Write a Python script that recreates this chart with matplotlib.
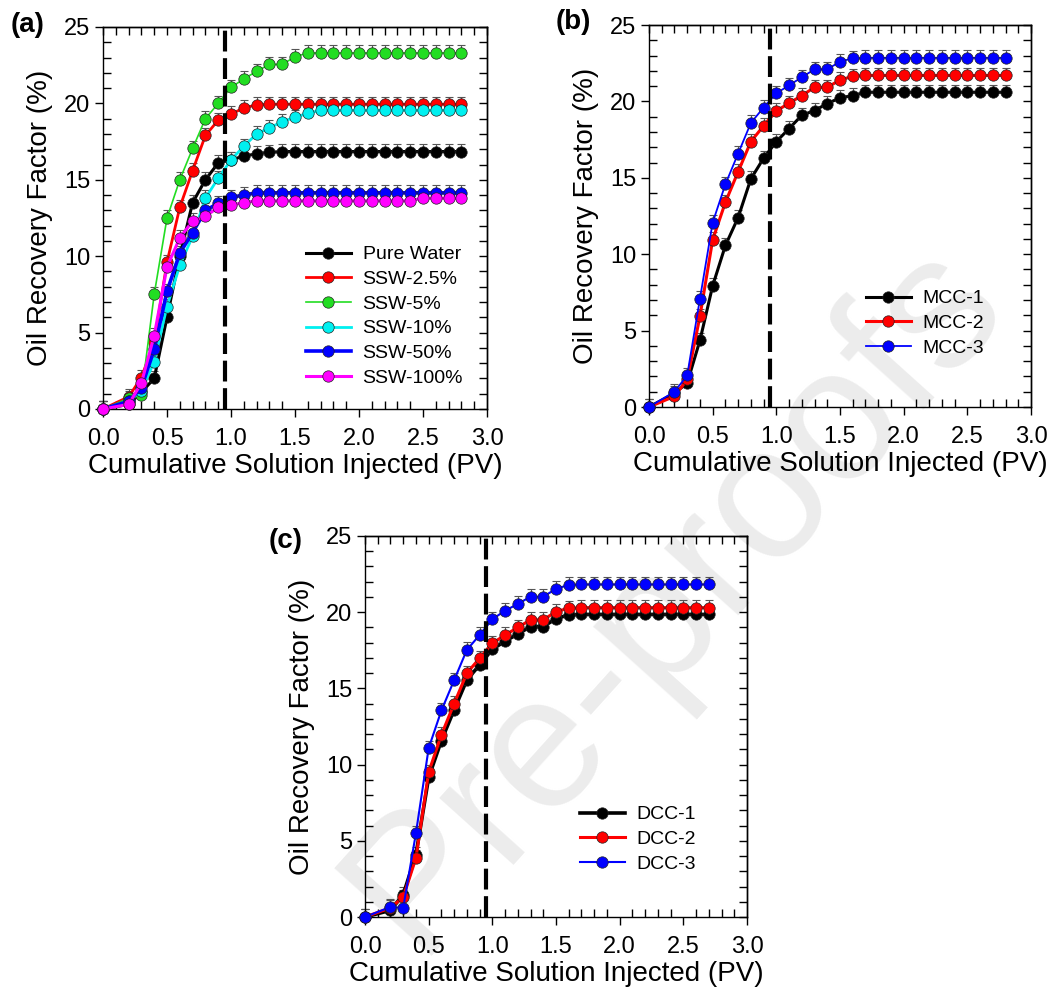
import matplotlib
matplotlib.use("Agg")
import matplotlib.pyplot as plt
from matplotlib.ticker import MultipleLocator

plt.rcParams['font.family'] = ['Liberation Sans', 'DejaVu Sans']

# ---------------- data ----------------
x_ab = [0.0, 0.2, 0.3, 0.4, 0.5, 0.6, 0.7, 0.8, 0.9, 1.0, 1.1, 1.2, 1.3, 1.4,
        1.5, 1.6, 1.7, 1.8, 1.9, 2.0, 2.1, 2.2, 2.3, 2.4, 2.5, 2.6, 2.7, 2.8]
x_c = x_ab[:-1]

pure_water = [0, 0.3, 1.1, 2.0, 6.0, 10.0, 13.5, 15.0, 16.1, 16.3, 16.55, 16.7, 16.8,
              16.85, 16.85, 16.85, 16.85, 16.85, 16.85, 16.85, 16.85, 16.85, 16.85,
              16.85, 16.85, 16.85, 16.85, 16.85]
ssw_2_5 = [0, 0.8, 2.05, 4.4, 9.6, 13.2, 15.6, 17.9, 18.9, 19.3, 19.7, 19.9,
           19.95, 19.95, 19.95, 19.95, 19.95, 19.95, 19.95, 19.95, 19.95, 19.95,
           19.95, 19.95, 19.95, 19.95, 19.95, 19.95]
ssw_5 = [0, 0.7, 0.9, 7.5, 12.5, 15.0, 17.05, 19.0, 20.0, 21.05, 21.6, 22.1, 22.55,
         22.55, 23.05, 23.3, 23.3, 23.3, 23.3, 23.3, 23.3, 23.3, 23.3, 23.3, 23.3,
         23.3, 23.3, 23.3]
ssw_10 = [0, 0.5, 1.2, 3.1, 6.7, 9.4, 11.3, 13.8, 15.1, 16.3, 17.2, 18.0, 18.4, 18.8,
          19.1, 19.35, 19.55, 19.55, 19.55, 19.55, 19.55, 19.55, 19.55, 19.55, 19.55,
          19.55, 19.55, 19.55]
ssw_50 = [0, 0.5, 1.4, 3.9, 7.7, 10.2, 11.55, 13.0, 13.45, 13.85, 14.0, 14.15, 14.15,
          14.15, 14.15, 14.15, 14.15, 14.15, 14.15, 14.15, 14.15, 14.15, 14.15, 14.15,
          14.15, 14.15, 14.15, 14.15]
ssw_100 = [0, 0.3, 1.7, 4.8, 9.3, 11.2, 12.3, 12.6, 13.2, 13.35, 13.5, 13.63, 13.63,
           13.63, 13.63, 13.63, 13.63, 13.63, 13.63, 13.63, 13.63, 13.63, 13.63, 13.63,
           13.8, 13.8, 13.8, 13.8]

mcc_1 = [0, 0.9, 1.57, 4.36, 7.93, 10.57, 12.4, 14.93, 16.28, 17.37, 18.22, 19.09,
         19.4, 19.86, 20.23, 20.38, 20.6, 20.6, 20.6, 20.6, 20.6, 20.6, 20.6, 20.6,
         20.6, 20.6, 20.6, 20.6]
mcc_2 = [0, 0.7, 1.8, 5.93, 10.94, 13.4, 15.4, 17.37, 18.4, 19.38, 19.88, 20.38,
         20.92, 20.92, 21.4, 21.64, 21.7, 21.7, 21.7, 21.7, 21.7, 21.7, 21.7, 21.7,
         21.7, 21.7, 21.7, 21.7]
mcc_3 = [0, 1.0, 2.07, 7.08, 12.07, 14.58, 16.59, 18.59, 19.6, 20.53, 21.05, 21.58,
         22.1, 22.1, 22.6, 22.82, 22.85, 22.85, 22.85, 22.85, 22.85, 22.85, 22.85,
         22.85, 22.85, 22.85, 22.85, 22.85]

dcc_1 = [0, 0.44, 1.46, 4.09, 9.16, 11.58, 13.6, 15.56, 16.54, 17.57, 18.1, 18.57,
         19.06, 19.06, 19.58, 19.82, 19.85, 19.85, 19.85, 19.85, 19.85, 19.85, 19.85,
         19.85, 19.85, 19.85, 19.85]
dcc_2 = [0, 0.6, 1.3, 3.87, 9.5, 11.95, 14.0, 16.0, 16.98, 17.96, 18.5, 19.0, 19.5,
         19.5, 20.04, 20.26, 20.3, 20.3, 20.3, 20.3, 20.3, 20.3, 20.3, 20.3, 20.3,
         20.3, 20.3]
dcc_3 = [0, 0.66, 0.6, 5.5, 11.08, 13.55, 15.54, 17.53, 18.5, 19.54, 20.1, 20.54,
         21.02, 21.02, 21.53, 21.79, 21.82, 21.82, 21.82, 21.82, 21.82, 21.82, 21.82,
         21.82, 21.82, 21.82, 21.82]

err_up = 0.5          # upper error bar (%)
breakthrough = 0.95   # dashed line position (PV)

xticks = [0.0, 0.5, 1.0, 1.5, 2.0, 2.5, 3.0]
xticklabels = ["0.0", "0.5", "1.0", "1.5", "2.0", "2.5", "3.0"]
yticks = [0, 5, 10, 15, 20, 25]

panel_a = [("Pure Water", pure_water, "#000000", 2.2),
           ("SSW-2.5%", ssw_2_5, "#ff0000", 2.0),
           ("SSW-5%", ssw_5, "#22dd22", 1.2),
           ("SSW-10%", ssw_10, "#00f0f0", 2.0),
           ("SSW-50%", ssw_50, "#0000ff", 2.6),
           ("SSW-100%", ssw_100, "#ff00ff", 2.2)]
panel_b = [("MCC-1", mcc_1, "#000000", 2.2),
           ("MCC-2", mcc_2, "#ff0000", 2.2),
           ("MCC-3", mcc_3, "#0000ff", 1.3)]
panel_c = [("DCC-1", dcc_1, "#000000", 2.6),
           ("DCC-2", dcc_2, "#ff0000", 2.2),
           ("DCC-3", dcc_3, "#0000ff", 1.5)]

W, H = 1049, 993
fig = plt.figure(figsize=(W / 100, H / 100), dpi=100)

# watermark (drawn behind the transparent axes)
fig.text(675 / W, 1 - 595 / H, "Pre-proofs", fontsize=136, color="#ececec",
         rotation=48, ha="center", va="center", zorder=-5)


def make_axes(l, t, r, b):
    return fig.add_axes([l / W, 1 - b / H, (r - l) / W, (b - t) / H])


def style(ax, xdata, series, leg_anchor, labelpad_y):
    for name, y, col, lw in series:
        ax.errorbar(xdata, y, yerr=[[0] * len(y), [err_up] * len(y)], fmt="none",
                    ecolor="#555555", elinewidth=0.8, capsize=3, capthick=0.8,
                    zorder=2, clip_on=False)
    for name, y, col, lw in series:
        ax.plot(xdata, y, "-o", color=col, lw=lw, ms=8.2, mfc=col, mec="#222222",
                mew=0.5, label=name, zorder=3, clip_on=False)
    ax.axvline(breakthrough, color="black", lw=3.0, dashes=(5, 1.6), zorder=4)
    ax.set_xlim(0, 3.0)
    ax.set_ylim(0, 25)
    ax.set_xticks(xticks)
    ax.set_xticklabels(xticklabels)
    ax.set_yticks(yticks)
    ax.xaxis.set_minor_locator(MultipleLocator(0.1))
    ax.yaxis.set_minor_locator(MultipleLocator(1))
    ax.tick_params(which="major", direction="out", length=6, width=1.0,
                   labelsize=17, colors="black")
    ax.tick_params(axis="x", which="major", pad=8)
    ax.tick_params(axis="y", which="major", pad=3)
    ax.tick_params(which="minor", direction="in", length=6, width=1.0)
    sx = ax.secondary_xaxis("top")
    sx.set_xticks(xticks)
    sx.set_xticklabels([])
    sx.xaxis.set_minor_locator(MultipleLocator(0.1))
    sx.tick_params(which="both", direction="in", length=6, width=1.0)
    sy = ax.secondary_yaxis("right")
    sy.set_yticks(yticks)
    sy.set_yticklabels([])
    sy.yaxis.set_minor_locator(MultipleLocator(1))
    sy.tick_params(which="both", direction="in", length=6, width=1.0)
    for s in list(ax.spines.values()) + [sx.spines["top"], sy.spines["right"]]:
        s.set_linewidth(1.0)
    ax.set_facecolor("none")
    ax.set_xlabel("Cumulative Solution Injected (PV)", fontsize=20, labelpad=2)
    ax.set_ylabel("Oil Recovery Factor (%)", fontsize=20, labelpad=labelpad_y)
    ax.legend(loc="upper left", bbox_to_anchor=leg_anchor, frameon=False,
              fontsize=14, handlelength=2.3, handletextpad=0.6, labelspacing=0.36,
              borderpad=0, borderaxespad=0)


ax_a = make_axes(103, 27, 487, 409)
style(ax_a, x_ab, panel_a, (0.529, 0.427), 8)
ax_b = make_axes(649, 25, 1031, 407)
style(ax_b, x_ab, panel_b, (0.568, 0.307), 8)
ax_c = make_axes(365, 536, 747, 917)
style(ax_c, x_c, panel_c, (0.563, 0.292), 8)

fig.text(28 / W, 1 - 25 / H, "(a)", fontsize=20, fontweight="bold",
         ha="center", va="center")
fig.text(573 / W, 1 - 22 / H, "(b)", fontsize=20, fontweight="bold",
         ha="center", va="center")
fig.text(286 / W, 1 - 541 / H, "(c)", fontsize=20, fontweight="bold",
         ha="center", va="center")

fig.savefig("out.png", dpi=100, facecolor="white")
